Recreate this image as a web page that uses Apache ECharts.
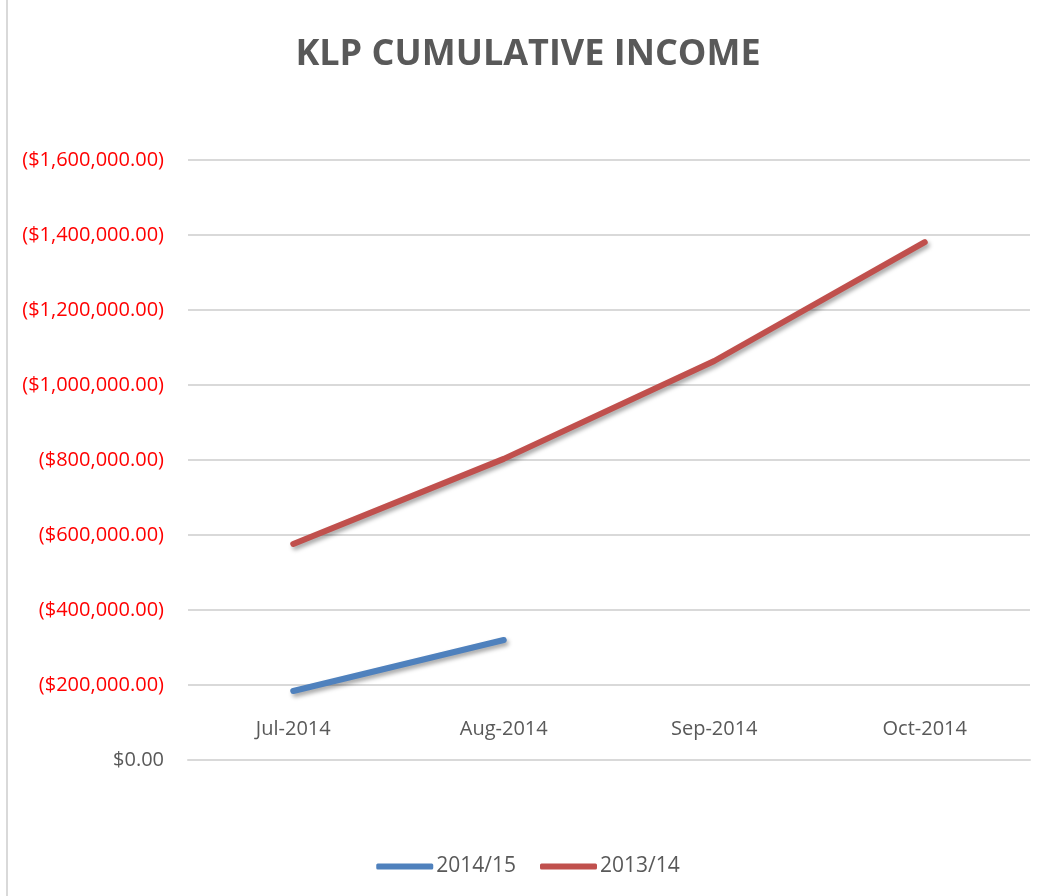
<!DOCTYPE html>
<html>
<head>
<meta charset="utf-8">
<title>KLP Cumulative Income</title>
<script src="https://cdn.jsdelivr.net/npm/echarts@6/dist/echarts.min.js"></script>
<style>
    html, body { margin: 0; padding: 0; background: #fff; }
    #chart { width: 1056px; height: 896px; }
</style>
</head>
<body>
<div id="chart"></div>
<script>
// chart data
var months = ['Jul-2014', 'Aug-2014', 'Sep-2014', 'Oct-2014'];
var income1415 = [-184000, -320000, null, null];
var income1314 = [-576000, -803000, -1064000, -1381000];
var seriesNames = ['2014/15', '2013/14'];

var textGrey = '#595959';
var fontName = '"Open Sans", "Liberation Sans", sans-serif';

// Excel style currency: negatives in parentheses
function money(v) {
    var abs = Math.abs(v).toFixed(2).replace(/\B(?=(\d{3})+(?!\d))/g, ',');
    return v < 0 ? '($' + abs + ')' : '$' + abs;
}

var myChart = echarts.init(document.getElementById('chart'));

var lineShadow = {
    shadowColor: 'rgba(0,0,0,0.35)',
    shadowBlur: 4,
    shadowOffsetX: 2,
    shadowOffsetY: 3,
    cap: 'round'
};

var option = {
    animation: false,
    title: {
        text: 'KLP CUMULATIVE INCOME',
        left: 'center',
        top: 32,
        textStyle: { color: textGrey, fontSize: 36, fontWeight: 'bold', fontFamily: fontName }
    },
    legend: {
        bottom: 14,
        left: 'center',
        icon: 'roundRect',
        itemWidth: 57,
        itemHeight: 6,
        itemGap: 24,
        textStyle: { color: textGrey, fontSize: 21, fontFamily: fontName, padding: [0, 0, 0, -2] },
        data: seriesNames
    },
    grid: { left: 188, right: 26, top: 160, bottom: 136 },
    xAxis: {
        type: 'category',
        data: months,
        boundaryGap: true,
        axisLine: { lineStyle: { color: '#D9D9D9', width: 2 } },
        axisTick: { inside: true, length: 6, lineStyle: { color: '#D9D9D9', width: 2 } },
        axisLabel: { inside: true, margin: 21, color: textGrey, fontSize: 20, fontFamily: fontName }
    },
    yAxis: {
        type: 'value',
        inverse: true,
        min: -1600000,
        max: 0,
        interval: 200000,
        axisLine: { show: false },
        axisTick: { show: false },
        splitLine: { lineStyle: { color: '#D9D9D9', width: 2 } },
        axisLabel: {
            margin: 24,
            fontSize: 20,
            fontFamily: fontName,
            formatter: money,
            color: function (v) { return v < 0 ? '#FF0000' : textGrey; }
        }
    },
    series: [
        {
            name: seriesNames[0],
            type: 'line',
            data: income1415,
            symbol: 'none',
            itemStyle: { color: '#4F81BD' }
        },
        {
            name: seriesNames[1],
            type: 'line',
            data: income1314,
            symbol: 'none',
            itemStyle: { color: '#C0504D' }
        }
    ],
    graphic: [{
        type: 'line',
        shape: { x1: 7, y1: 0, x2: 7, y2: 896 },
        style: { stroke: '#D9D9D9', lineWidth: 2 }
    }]
};

option.series[0].lineStyle = Object.assign({ color: '#4F81BD', width: 6 }, lineShadow);
option.series[1].lineStyle = Object.assign({ color: '#C0504D', width: 6 }, lineShadow);

myChart.setOption(option);
</script>
</body>
</html>
